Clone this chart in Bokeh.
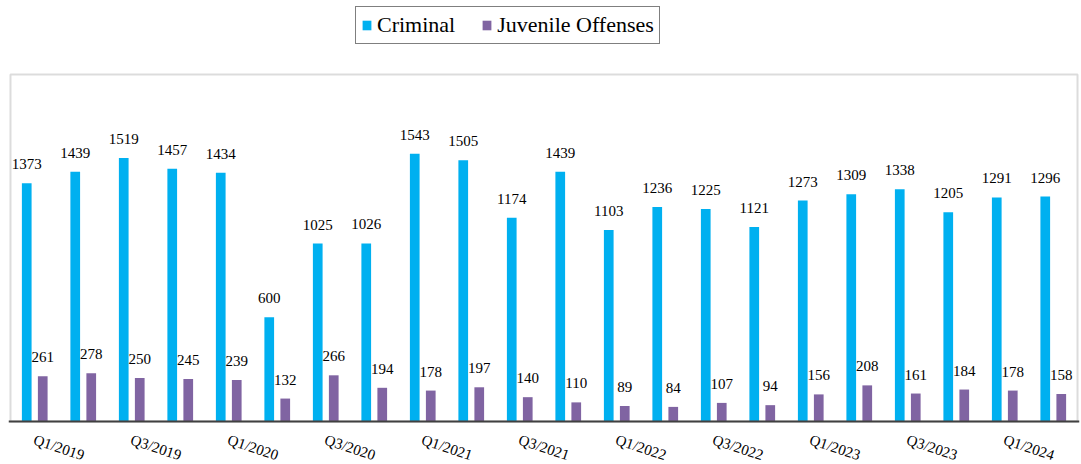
from bokeh.plotting import figure
from bokeh.models import (ColumnDataSource, Range1d, LabelSet, Legend,
                          LegendItem, BoxAnnotation, Span)
from bokeh.embed import file_html
from bokeh.resources import INLINE

quarters = ["Q1/2019", "Q2/2019", "Q3/2019", "Q4/2019",
            "Q1/2020", "Q2/2020", "Q3/2020", "Q4/2020",
            "Q1/2021", "Q2/2021", "Q3/2021", "Q4/2021",
            "Q1/2022", "Q2/2022", "Q3/2022", "Q4/2022",
            "Q1/2023", "Q2/2023", "Q3/2023", "Q4/2023",
            "Q1/2024", "Q2/2024"]
criminal = [1373, 1439, 1519, 1457, 1434, 600, 1025, 1026, 1543, 1505, 1174,
            1439, 1103, 1236, 1225, 1121, 1273, 1309, 1338, 1205, 1291, 1296]
juvenile = [261, 278, 250, 245, 239, 132, 266, 194, 178, 197, 140,
            110, 89, 84, 107, 94, 156, 208, 161, 184, 178, 158]

BLUE = "#00B0F0"
PURPLE = "#8064A2"
FONT = "Liberation Serif"
OFF = 0.165
YMAX = 2000

n = len(quarters)
idx = list(range(n))
src = ColumnDataSource(dict(
    xc=[i - OFF for i in idx],
    xj=[i + OFF for i in idx],
    criminal=criminal,
    juvenile=juvenile,
    clab=[str(v) for v in criminal],
    jlab=[str(v) for v in juvenile],
))
tick_src = ColumnDataSource(dict(
    x=[i + 0.5 for i in idx if i % 2 == 0],
    y=[0 for i in idx if i % 2 == 0],
    text=[quarters[i] for i in idx if i % 2 == 0],
))

p = figure(width=1081, height=464, output_backend="svg", toolbar_location=None,
           x_range=Range1d(-0.541, n - 0.459), y_range=Range1d(-248, 2426),
           x_axis_location=None, y_axis_location=None,
           min_border_left=8, min_border_right=2, min_border_top=0, min_border_bottom=0)

p.outline_line_color = None
p.xgrid.visible = False
p.ygrid.visible = False
p.background_fill_color = "white"
p.border_fill_color = "white"

# plot-area box and category axis line
p.add_layout(BoxAnnotation(left=-0.5, right=n - 0.5, bottom=0, top=YMAX,
                           fill_alpha=0, line_color="#8C8C8C", line_width=2))

rc = p.vbar(x="xc", top="criminal", width=0.2, source=src, fill_color=BLUE, line_color=None)
rj = p.vbar(x="xj", top="juvenile", width=0.2, source=src, fill_color=PURPLE, line_color=None)

p.add_layout(Span(location=0, dimension="width", line_color="#404040", line_width=2))

for xf, yf, tf in [("xc", "criminal", "clab"), ("xj", "juvenile", "jlab")]:
    p.add_layout(LabelSet(x=xf, y=yf, text=tf, source=src, y_offset=14,
                          text_align="center", text_baseline="alphabetic",
                          text_font=FONT, text_font_size="15px", text_color="black"))

# category tick labels
p.add_layout(LabelSet(x="x", y="y", text="text", source=tick_src, y_offset=-26,
                      angle=-0.32, text_align="center", text_baseline="middle",
                      text_font=FONT, text_font_size="15px", text_color="black"))

legend = Legend(items=[LegendItem(label="Criminal", renderers=[rc]),
                       LegendItem(label="Juvenile Offenses", renderers=[rj])],
                orientation="horizontal", location=(347, 420),
                border_line_color="black", border_line_width=1,
                background_fill_color="white", background_fill_alpha=1,
                label_text_font=FONT, label_text_font_size="22px",
                label_text_color="black",
                glyph_width=11, glyph_height=12, label_standoff=5,
                spacing=26, padding=5, margin=0, label_height=20)
p.add_layout(legend, "center")

open("out.html", "w").write(file_html(p, INLINE))
